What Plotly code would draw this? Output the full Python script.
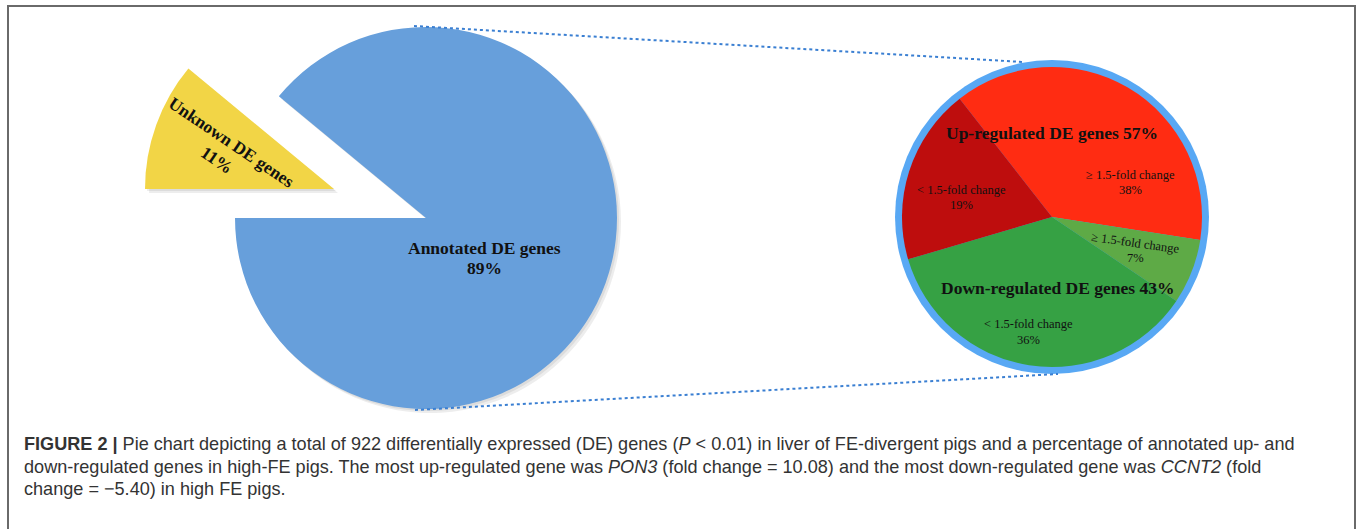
import plotly.graph_objects as go

# ---- data -------------------------------------------------------------
total_labels = ["Annotated DE genes", "Unknown DE genes"]
total_values = [89, 11]

annot_labels = ["≥ 1.5-fold change (up)", "≥ 1.5-fold change (down)",
                "< 1.5-fold change (down)", "< 1.5-fold change (up)"]
annot_values = [38, 7, 36, 19]
up_total = 57
down_total = 43

# ---- canvas -----------------------------------------------------------
W, H = 1358, 529


def px(x):
    return x / W


def py(y):
    return 1 - y / H


def domain(cx, cy, r):
    return dict(x=[px(cx - r), px(cx + r)], y=[py(cy + r), py(cy - r)])


BLUE = "#679FDB"
YELLOW = "#F2D546"
RING = "#58A8F4"
SHADOW = "rgba(0,0,0,0.07)"
NONE = "rgba(0,0,0,0)"
pie_colors = ["#FF2C12", "#5EAA46", "#36A144", "#BE0D0D"]

# the unknown wedge sits just above the 9 o'clock line, blue starts after it
unknown_frac = total_values[1] / sum(total_values)
rot_left = 270 + 360 * unknown_frac

fig = go.Figure()


def left_pie(colors, cx, cy, r):
    fig.add_trace(go.Pie(
        labels=total_labels, values=total_values, sort=False, direction="clockwise",
        rotation=rot_left, textinfo="none", hoverinfo="skip", showlegend=False,
        marker=dict(colors=colors), domain=domain(cx, cy, r),
    ))


# soft drop shadow under both parts of the left pie
for off in (2, 4):
    left_pie([SHADOW, NONE], 426 + off, 218 + off, 191)
    left_pie([NONE, SHADOW], 334 + off, 189 + off, 189)

# main pie: annotated genes
left_pie([BLUE, NONE], 426, 218, 191)
# exploded wedge: unknown genes
left_pie([NONE, YELLOW], 334, 189, 189)

# breakdown of the annotated genes
fig.add_trace(go.Pie(
    labels=annot_labels, values=annot_values, sort=False, direction="clockwise",
    rotation=-38, textinfo="none", hoverinfo="skip", showlegend=False,
    marker=dict(colors=pie_colors),
    domain=domain(1052, 217, 150),
))

shapes = [
    # frame
    dict(type="rect", xref="paper", yref="paper",
         x0=px(8), x1=px(1355), y0=py(560), y1=py(6),
         line=dict(color="#6A6A6A", width=2), fillcolor="rgba(0,0,0,0)"),
    # ring around the breakdown pie
    dict(type="circle", xref="paper", yref="paper", layer="below",
         x0=px(1052 - 157), x1=px(1052 + 157), y0=py(217 + 157), y1=py(217 - 157),
         line=dict(width=0), fillcolor=RING),
    # connector lines
    dict(type="line", xref="paper", yref="paper",
         x0=px(414), y0=py(26), x1=px(1023), y1=py(62),
         line=dict(color="#3A7FD2", width=2, dash="dot")),
    dict(type="line", xref="paper", yref="paper",
         x0=px(415), y0=py(410), x1=px(1058), y1=py(374),
         line=dict(color="#3A7FD2", width=2, dash="dot")),
]

SERIF = "Liberation Serif"
annotations = []


def label(x, y, text, size, bold=False, angle=0):
    t = f"<b>{text}</b>" if bold else text
    annotations.append(dict(
        x=px(x), y=py(y), xref="paper", yref="paper", text=t, showarrow=False,
        xanchor="center", yanchor="middle", textangle=angle,
        font=dict(family=SERIF, size=size, color="#111111"),
    ))


label(484, 248, total_labels[0], 17.5, bold=True)
label(484, 268, f"{total_values[0]}%", 17.5, bold=True)
label(231, 142, total_labels[1], 17.5, bold=True, angle=34)
label(217, 160, f"{total_values[1]}%", 17.5, bold=True, angle=34)

label(1052, 133, f"Up-regulated DE genes {up_total}%", 17.5, bold=True)
label(1058, 288, f"Down-regulated DE genes {down_total}%", 17.5, bold=True)
label(1130, 175, "≥ 1.5-fold change", 12.5)
label(1130, 190, f"{annot_values[0]}%", 12.5)
label(961, 190, "< 1.5-fold change", 12.5)
label(961, 205, f"{annot_values[3]}%", 12.5)
label(1135, 243, "≥ 1.5-fold change", 12.5, angle=8)
label(1135, 258, f"{annot_values[1]}%", 12.5)
label(1028, 324, "< 1.5-fold change", 12.5)
label(1028, 340, f"{annot_values[2]}%", 12.5)

caption = [
    "<b>FIGURE 2 |</b> Pie chart depicting a total of 922 differentially expressed (DE) genes "
    "(<i>P</i> &lt; 0.01) in liver of FE-divergent pigs and a percentage of annotated up- and",
    "down-regulated genes in high-FE pigs. The most up-regulated gene was <i>PON3</i> "
    "(fold change = 10.08) and the most down-regulated gene was <i>CCNT2</i> (fold",
    "change = −5.40) in high FE pigs.",
]
for i, line in enumerate(caption):
    annotations.append(dict(
        x=px(22), y=py(444 + 22.5 * i), xref="paper", yref="paper", text=line,
        showarrow=False, xanchor="left", yanchor="middle", align="left",
        font=dict(family="Liberation Sans", size=18.1, color="#333333"),
    ))

fig.update_layout(
    width=W, height=H, margin=dict(l=0, r=0, t=0, b=0),
    paper_bgcolor="white", plot_bgcolor="white",
    shapes=shapes, annotations=annotations, showlegend=False,
)

fig.write_html("out.html")
